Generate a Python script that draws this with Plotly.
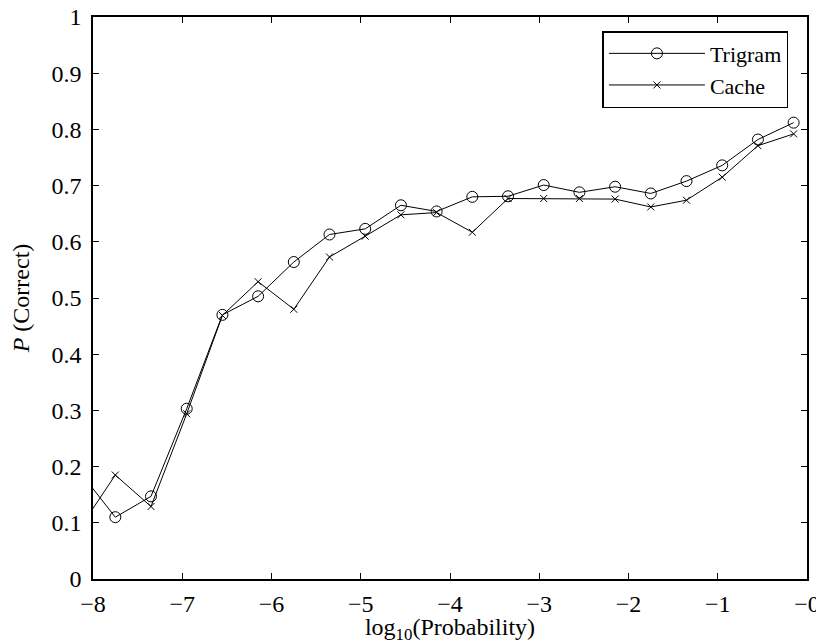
import plotly.graph_objects as go

# bin centres of log10(probability); first entry lies just left of the axis (clipped)
log_prob = [-8.15, -7.75, -7.35, -6.95, -6.55, -6.15, -5.75, -5.35, -4.95, -4.55,
            -4.15, -3.75, -3.35, -2.95, -2.55, -2.15, -1.75, -1.35, -0.95, -0.55, -0.15]

trigram = [0.191, 0.110, 0.147, 0.303, 0.470, 0.503, 0.564, 0.613, 0.623, 0.665,
           0.654, 0.680, 0.681, 0.701, 0.688, 0.698, 0.686, 0.708, 0.736, 0.782, 0.812]

cache = [0.090, 0.185, 0.129, 0.294, 0.469, 0.529, 0.480, 0.573, 0.610, 0.648,
         0.652, 0.617, 0.677, 0.677, 0.677, 0.676, 0.662, 0.674, 0.715, 0.771, 0.792]

x_tick_vals = [-8, -7, -6, -5, -4, -3, -2, -1, 0]
x_tick_text = ["\u22128", "\u22127", "\u22126", "\u22125", "\u22124", "\u22123", "\u22122", "\u22121", "\u22120"]
y_tick_vals = [0, 0.1, 0.2, 0.3, 0.4, 0.5, 0.6, 0.7, 0.8, 0.9, 1]
y_tick_text = ["0", "0.1", "0.2", "0.3", "0.4", "0.5", "0.6", "0.7", "0.8", "0.9", "1"]

FONT = "Liberation Serif"
FS = 24

fig = go.Figure()
fig.add_trace(go.Scatter(
    x=log_prob, y=trigram, name="Trigram", mode="lines+markers",
    line=dict(color="black", width=1),
    marker=dict(symbol="circle-open", size=11, color="black", line=dict(width=1)),
))
fig.add_trace(go.Scatter(
    x=log_prob, y=cache, name="Cache", mode="lines+markers",
    line=dict(color="black", width=1),
    marker=dict(symbol="x-thin-open", size=7, color="black", line=dict(width=1, color="black")),
))

axis_common = dict(
    showgrid=False, zeroline=False, showline=True, linecolor="black", linewidth=1.5,
    mirror="ticks", ticks="inside", ticklen=6, tickwidth=1, tickcolor="black",
    tickfont=dict(family=FONT, size=FS, color="black"), automargin=False,
    ticklabeloverflow="allow",
)

# the page body has an 8px margin, so the figure is sized to fit the window
fig.update_layout(
    width=816, height=636,
    margin=dict(l=85, r=17, t=9, b=65),
    paper_bgcolor="white", plot_bgcolor="white",
    font=dict(family=FONT, size=FS, color="black"),
    xaxis=dict(range=[-8, 0], tickvals=x_tick_vals, ticktext=x_tick_text,
               ticklabelstandoff=2,
               title=dict(text="log<sub>10</sub>(Probability)", standoff=0,
                          font=dict(family=FONT, size=FS, color="black")),
               **axis_common),
    yaxis=dict(range=[0, 1], tickvals=y_tick_vals, ticktext=y_tick_text,
               ticklabelstandoff=5,
               title=dict(text="<i>P</i> (Correct)", standoff=22,
                          font=dict(family=FONT, size=FS, color="black")),
               **axis_common),
    legend=dict(x=0.974, y=0.975, xanchor="right", yanchor="top",
                bgcolor="white", bordercolor="black", borderwidth=1.5,
                font=dict(family=FONT, size=22, color="black"),
                itemwidth=96, tracegroupgap=0),
    showlegend=True,
)

fig.write_html("out.html")
